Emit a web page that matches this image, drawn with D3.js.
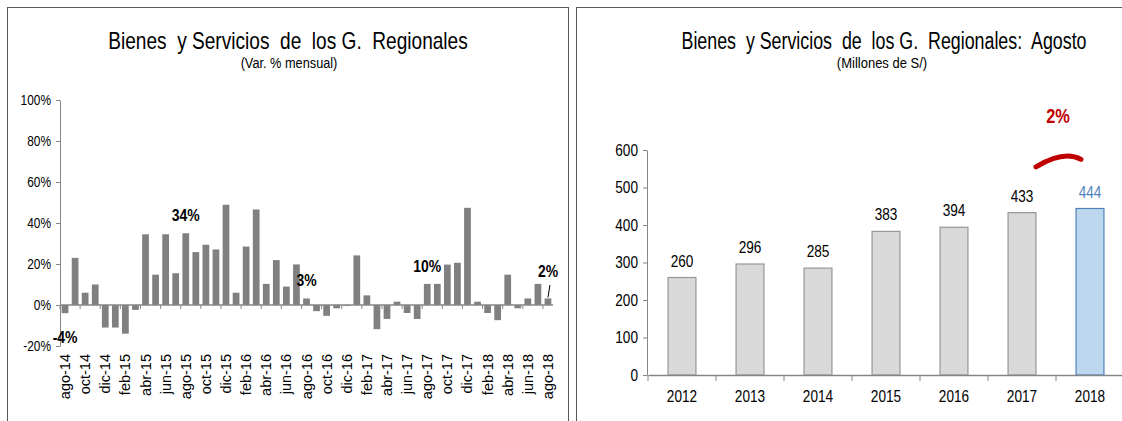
<!DOCTYPE html>
<html>
<head>
<meta charset="utf-8">
<script src="https://cdn.jsdelivr.net/npm/d3@7"></script>
<style>
  body { margin: 0; background: #fff; }
  svg text { font-family: 'Liberation Sans', Arial, sans-serif; }
</style>
</head>
<body>
<svg id="canvas"></svg>
<script>
// --- datos: variación % mensual (ago-14 a ago-18)
let months = ['ago-14','sep-14','oct-14','nov-14','dic-14','ene-15','feb-15','mar-15','abr-15','may-15','jun-15','jul-15',
  'ago-15','sep-15','oct-15','nov-15','dic-15','ene-16','feb-16','mar-16','abr-16','may-16','jun-16','jul-16',
  'ago-16','sep-16','oct-16','nov-16','dic-16','ene-17','feb-17','mar-17','abr-17','may-17','jun-17','jul-17',
  'ago-17','sep-17','oct-17','nov-17','dic-17','ene-18','feb-18','mar-18','abr-18','may-18','jun-18','jul-18','ago-18'];
let monthlyVar = [-4, 23, 6, 10, -11, -11, -14, -2.4, 34.5, 14.8, 34.5, 15.5,
  35, 25.8, 29.4, 27.1, 48.9, 6, 28.5, 46.6, 10.3, 21.9, 9, 19.8,
  3.2, -3, -5.3, -1.6, -0.4, 24.2, 4.7, -11.8, -6.8, 1.6, -3.9, -6.8,
  10.3, 10.3, 19.7, 20.6, 47.4, 1.6, -3.9, -7.4, 14.8, -1.6, 3.2, 10.3, 3.2];
let leftTicks = [-20, 0, 20, 40, 60, 80, 100];
let leftNotes = [['ago-14', '-4%'], ['ago-15', '34%'], ['ago-16', '3%'], ['ago-17', '10%'], ['ago-18', '2%']];

// --- datos: agosto de cada año (millones de S/)
let years = ['2012','2013','2014','2015','2016','2017','2018'];
let augustValues = [260, 296, 285, 383, 394, 433, 444];
let rightTicks = [0, 100, 200, 300, 400, 500, 600];
let growthLabel = '2%';

let width = 1122;
let height = 421;
let axisColor = '#868686';

let svg = d3.select('#canvas').attr('width', width).attr('height', height);

// letra angosta tipo "Arial Narrow"
let narrow = (sel, f) => {
  sel.each(function () {
    let len = this.getComputedTextLength();
    d3.select(this).attr('textLength', len * f).attr('lengthAdjust', 'spacingAndGlyphs');
  });
};

// títulos: escala horizontal para que se vean angostos
let title = (x, y, size, sx, txt) => {
  svg.append('text')
     .attr('transform', 'translate(' + x + ',' + y + ') scale(' + sx + ',1)')
     .attr('text-anchor', 'middle')
     .attr('font-size', size)
     .attr('fill', '#000')
     .text(txt);
};

// marcos de los paneles
svg.append('rect').attr('x', 7.5).attr('y', 7.5).attr('width', 561).attr('height', 430)
   .attr('fill', 'none').attr('stroke', '#595959').attr('stroke-width', 1);
svg.append('rect').attr('x', 576.5).attr('y', 7.5).attr('width', 580).attr('height', 430)
   .attr('fill', 'none').attr('stroke', '#595959').attr('stroke-width', 1);

// ================= panel izquierdo =================
let xLeft = d3.scaleBand().domain(months).range([60, 553]).paddingInner(0.33).paddingOuter(0.165);
let yLeft = d3.scaleLinear().domain([-20, 100]).range([346, 100]);

title(288, 49, 23, 0.83, 'Bienes\u00a0 y Servicios\u00a0 de\u00a0 los G.\u00a0 Regionales');
title(289, 68, 15, 0.85, '(Var. % mensual)');

svg.append('g').selectAll('rect')
   .data(monthlyVar)
   .enter()
   .append('rect')
   .attr('x', (d, i) => xLeft(months[i]))
   .attr('width', xLeft.bandwidth())
   .attr('y', (d) => yLeft(Math.max(d, 0)))
   .attr('height', (d) => Math.abs(yLeft(d) - yLeft(0)))
   .attr('fill', '#808080');

let yAxisL = d3.axisLeft(yLeft).tickValues(leftTicks).tickFormat((d) => d + '%').tickSize(4).tickSizeOuter(0);
let gyl = svg.append('g').attr('transform', 'translate(60,0)').call(yAxisL);
gyl.select('.domain').attr('stroke', axisColor);
gyl.selectAll('.tick line').attr('stroke', axisColor);
gyl.selectAll('.tick text').attr('font-size', 14).attr('fill', '#000').attr('x', -9)
   .style('font-family', "'Liberation Sans', Arial, sans-serif").attr('class', 'nar');

// línea del cero con marcas cada 2 meses
let step = xLeft.step();
let zeroY = yLeft(0);
svg.append('line').attr('x1', 60).attr('x2', 553).attr('y1', zeroY).attr('y2', zeroY)
   .attr('stroke', axisColor).attr('stroke-width', 1.5);
svg.append('g').selectAll('line')
   .data(months.filter((m, i) => i % 2 === 0))
   .enter()
   .append('line')
   .attr('x1', (m) => xLeft(m) - xLeft.paddingInner() * step / 2)
   .attr('x2', (m) => xLeft(m) - xLeft.paddingInner() * step / 2)
   .attr('y1', zeroY).attr('y2', zeroY + 4)
   .attr('stroke', axisColor);

// etiquetas de meses (verticales, abajo)
svg.append('g').selectAll('text')
   .data(months.filter((m, i) => i % 2 === 0))
   .enter()
   .append('text')
   .attr('transform', (m) => 'translate(' + (xLeft(m) + xLeft.bandwidth() / 2 + 5) + ',354) rotate(-90)')
   .attr('text-anchor', 'end')
   .attr('font-size', 14.5)
   .attr('fill', '#000')
   .text((m) => m);

// notas
let noteOffsets = {'-4%': [0, 30], '34%': [0, -12], '3%': [0, -12], '10%': [0, -12], '2%': [0, -21]};
svg.append('g').selectAll('text')
   .data(leftNotes)
   .enter()
   .append('text')
   .attr('x', (d) => xLeft(d[0]) + xLeft.bandwidth() / 2 + noteOffsets[d[1]][0])
   .attr('y', (d) => yLeft(monthlyVar[months.indexOf(d[0])]) + noteOffsets[d[1]][1])
   .attr('text-anchor', 'middle')
   .attr('font-size', 17)
   .attr('font-weight', 'bold')
   .attr('fill', '#000')
   .attr('class', 'narb')
   .text((d) => d[1]);
// pequeña línea guía para 2%
let lastX = xLeft('ago-18') + xLeft.bandwidth() / 2;
svg.append('line').attr('x1', lastX + 2).attr('y1', 285).attr('x2', lastX).attr('y2', yLeft(3.2) - 1)
   .attr('stroke', '#000').attr('stroke-width', 1);

// ================= panel derecho =================
let xRight = d3.scaleBand().domain(years).range([648, 1124]).paddingInner(0.59).paddingOuter(0.295);
let yRight = d3.scaleLinear().domain([0, 600]).range([375, 150]);

title(884, 49, 23, 0.775, 'Bienes\u00a0 y Servicios\u00a0 de\u00a0 los G.\u00a0 Regionales:\u00a0 Agosto');
title(882, 68, 14, 0.93, '(Millones de S/)');

svg.append('g').selectAll('rect')
   .data(augustValues)
   .enter()
   .append('rect')
   .attr('x', (d, i) => xRight(years[i]))
   .attr('width', xRight.bandwidth())
   .attr('y', (d) => yRight(d))
   .attr('height', (d) => yRight(0) - yRight(d))
   .attr('fill', (d, i) => i === years.length - 1 ? '#bdd7ee' : '#d9d9d9')
   .attr('stroke', (d, i) => i === years.length - 1 ? '#4f81bd' : '#969696')
   .attr('stroke-width', 1.2);

svg.append('g').selectAll('text')
   .data(augustValues)
   .enter()
   .append('text')
   .attr('x', (d, i) => xRight(years[i]) + xRight.bandwidth() / 2)
   .attr('y', (d) => yRight(d) - 11)
   .attr('text-anchor', 'middle')
   .attr('font-size', 16)
   .attr('fill', (d, i) => i === years.length - 1 ? '#4f81bd' : '#000')
   .attr('class', 'nar')
   .text((d) => d);

let yAxisR = d3.axisLeft(yRight).tickValues(rightTicks).tickSize(4).tickSizeOuter(0);
let gyr = svg.append('g').attr('transform', 'translate(647,0)').call(yAxisR);
gyr.select('.domain').attr('stroke', axisColor);
gyr.selectAll('.tick line').attr('stroke', axisColor);
gyr.selectAll('.tick text').attr('font-size', 16).attr('fill', '#000').attr('x', -9)
   .style('font-family', "'Liberation Sans', Arial, sans-serif").attr('class', 'nar');

let xAxisR = d3.axisBottom(xRight).tickSize(0).tickPadding(16);
let gxr = svg.append('g').attr('transform', 'translate(0,375)').call(xAxisR);
gxr.select('.domain').attr('stroke', axisColor).attr('stroke-width', 1.5);
gxr.selectAll('.tick text').attr('font-size', 16).attr('fill', '#000')
   .style('font-family', "'Liberation Sans', Arial, sans-serif").attr('class', 'nar');
// marcas entre categorías
svg.append('g').selectAll('line')
   .data(years)
   .enter()
   .append('line')
   .attr('x1', (y) => xRight(y) - xRight.paddingInner() * xRight.step() / 2)
   .attr('x2', (y) => xRight(y) - xRight.paddingInner() * xRight.step() / 2)
   .attr('y1', 375).attr('y2', 381)
   .attr('stroke', axisColor);

// crecimiento 2017-2018
let x17 = xRight('2017') + xRight.bandwidth() / 2;
let x18 = xRight('2018') + xRight.bandwidth() / 2;
svg.append('path')
   .attr('d', 'M' + (x17 + 14) + ',' + (yRight(555)) + ' Q' + ((x17 + x18) / 2 + 8) + ',' + (yRight(600)) + ' ' + (x18 - 9) + ',' + yRight(575))
   .attr('fill', 'none').attr('stroke', '#c00000').attr('stroke-width', 5).attr('stroke-linecap', 'round');
svg.append('text').attr('x', (x17 + x18) / 2 + 2).attr('y', 123).attr('text-anchor', 'middle')
   .attr('font-size', 20).attr('font-weight', 'bold').attr('fill', '#c00000').attr('class', 'narb')
   .text(growthLabel);

narrow(svg.selectAll('text.nar'), 0.85);
narrow(svg.selectAll('text.narb'), 0.82);
</script>
</body>
</html>
